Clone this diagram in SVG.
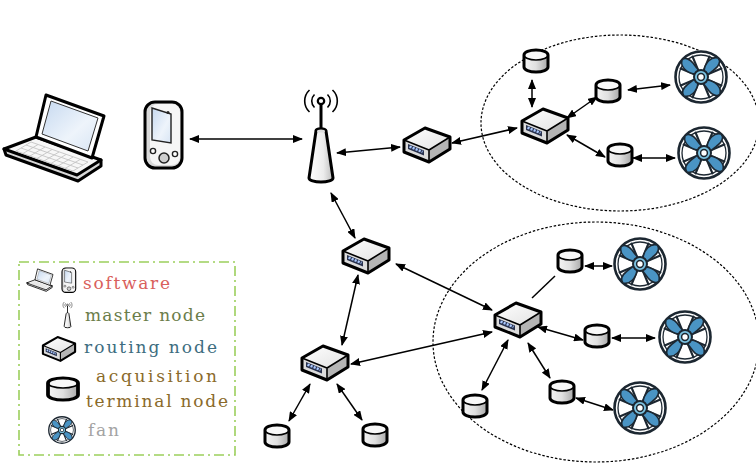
<svg xmlns="http://www.w3.org/2000/svg" xmlns:xlink="http://www.w3.org/1999/xlink" width="756" height="467" viewBox="0 0 756 467">
  <style>
    .link { stroke: #000; stroke-width: 1.5; fill: none; marker-start: url(#ah); marker-end: url(#ah); }
    .plain { stroke: #000; stroke-width: 1.5; fill: none; }
    .zone { fill: none; stroke: #000; stroke-width: 1.2; stroke-dasharray: 2.5 1.8; }
    .edge { stroke: #000; stroke-width: 3; stroke-linejoin: round; stroke-linecap: round; }
    .lbl { font-family: "DejaVu Serif", "Liberation Serif", serif; font-size: 17px; }
  </style>
  <defs>
    <marker id="ah" viewBox="0 0 10 8" refX="9" refY="4" markerWidth="10" markerHeight="8" markerUnits="userSpaceOnUse" orient="auto-start-reverse">
      <path d="M0,0 L10,4 L0,8 Z" fill="#000"/>
    </marker>
    <linearGradient id="gTop" x1="0" y1="0" x2="1" y2="1">
      <stop offset="0" stop-color="#ffffff"/>
      <stop offset="1" stop-color="#e2e2e2"/>
    </linearGradient>
    <linearGradient id="gCyl" x1="0" y1="0" x2="1" y2="0">
      <stop offset="0" stop-color="#f4f4f4"/>
      <stop offset="0.5" stop-color="#e0e0e0"/>
      <stop offset="1" stop-color="#a8a8a8"/>
    </linearGradient>
    <linearGradient id="gScreen" x1="0" y1="0" x2="1" y2="1">
      <stop offset="0" stop-color="#c6d9f0"/>
      <stop offset="0.6" stop-color="#eef4fb"/>
      <stop offset="1" stop-color="#d8e5f4"/>
    </linearGradient>
    <linearGradient id="gTower" x1="0" y1="0" x2="1" y2="0">
      <stop offset="0" stop-color="#ffffff"/>
      <stop offset="0.6" stop-color="#ececec"/>
      <stop offset="1" stop-color="#bdbdbd"/>
    </linearGradient>

    <!-- routing node: isometric box with port strip -->
    <g id="router">
      <path d="M-23,-5 L2,5 L2,17 L-23,7 Z" fill="#dcdcdc"/>
      <path d="M2,5 L23,-8 L23,4 L2,17 Z" fill="#b5b5b5"/>
      <path d="M-23,-5 L-2,-17 L23,-8 L2,5 Z" fill="url(#gTop)"/>
      <path d="M-19,-1 L-3,5.5 L-3,10.5 L-19,4 Z" fill="#28314d"/>
      <path d="M-17.5,1.6 L-4.5,6.9" stroke="#a9c8ff" stroke-width="2.4" stroke-dasharray="2.2 1.1"/>
      <path d="M-23,-5 L2,5 L23,-8 M2,5 L2,17" fill="none" stroke="#000" stroke-width="1.6" stroke-linejoin="round"/>
      <path d="M-23,-5 L-2,-17 L23,-8 L23,4 L2,17 L-23,7 Z" fill="none" class="edge"/>
    </g>

    <!-- acquisition terminal node: cylinder -->
    <g id="cyl">
      <path d="M-12,-6 L-12,6 A12,5 0 0 0 12,6 L12,-6 Z" fill="url(#gCyl)"/>
      <ellipse cx="0" cy="-6" rx="12" ry="5" fill="#f8f8f8" stroke="#000" stroke-width="1.6"/>
      <path d="M-12,-6 A12,5 0 0 1 12,-6 L12,6 A12,5 0 0 1 -12,6 Z" fill="none" class="edge" stroke-width="2.6"/>
    </g>

    <!-- fan -->
    <g id="fanBlade">
      <path d="M3,-6 C4,-14 10,-21 17,-19 C20,-16 18,-11 14,-8 C10,-5 7,-3 6,-1 Z" fill="#4a94c4" stroke="#1c2731" stroke-width="1.6" stroke-linejoin="round"/>
    </g>
    <g id="fan">
      <circle r="27" fill="#f2f2f2" opacity="0.6"/>
      <circle r="25.5" fill="#ffffff" stroke="#1c2731" stroke-width="2.6"/>
      <circle r="22" fill="none" stroke="#1c2731" stroke-width="1.3"/>
      <g stroke="#1c2731" stroke-width="2.2" stroke-linecap="round">
        <line x1="0" y1="-8" x2="0" y2="-22" transform="rotate(22.5)"/>
        <line x1="0" y1="-8" x2="0" y2="-22" transform="rotate(67.5)"/>
        <line x1="0" y1="-8" x2="0" y2="-22" transform="rotate(112.5)"/>
        <line x1="0" y1="-8" x2="0" y2="-22" transform="rotate(157.5)"/>
        <line x1="0" y1="-8" x2="0" y2="-22" transform="rotate(202.5)"/>
        <line x1="0" y1="-8" x2="0" y2="-22" transform="rotate(247.5)"/>
        <line x1="0" y1="-8" x2="0" y2="-22" transform="rotate(292.5)"/>
        <line x1="0" y1="-8" x2="0" y2="-22" transform="rotate(337.5)"/>
      </g>
      <use href="#fanBlade" transform="rotate(0)"/>
      <use href="#fanBlade" transform="rotate(90)"/>
      <use href="#fanBlade" transform="rotate(180)"/>
      <use href="#fanBlade" transform="rotate(270)"/>
      <circle r="7" fill="#7cc3e2" stroke="#1c2731" stroke-width="2"/>
      <circle r="3.4" fill="#ffffff" stroke="#1c2731" stroke-width="1.5"/>
    </g>

    <!-- laptop -->
    <g id="laptop">
      <path d="M4,149 L6,155 L78,181 L101,166 L101,160 Z" fill="#d8d8d8" class="edge"/>
      <path d="M36,137 L101,160 L77,175 L4,149 Z" fill="#f7f7f7" class="edge"/>
      <g stroke="#c4c4c4" stroke-width="0.9" fill="none">
        <path d="M31,142 L88,162 M26,145 L83,165 M21,148 L78,168 M16,151 L73,171"/>
        <path d="M31,142 L16,151 M38,144.5 L23,153.5 M45,147 L30,156 M52,149.5 L37,158.5 M59,152 L44,161 M66,154.5 L51,163.5 M73,157 L58,166 M80,159.5 L65,168.5 M88,162 L73,171"/>
      </g>
      <path d="M46,95 L104,116 L92,158 L36,137 Z" fill="#ffffff" class="edge"/>
      <path d="M51,101 L98,118 L88,151 L42,134 Z" fill="url(#gScreen)" stroke="#333" stroke-width="1"/>
    </g>

    <!-- handheld -->
    <g id="phone">
      <rect x="145" y="102" width="37" height="66" rx="10" fill="#d9d9d9" class="edge"/>
      <rect x="150" y="104" width="30" height="61" rx="8" fill="#f6f6f6"/>
      <path d="M152,108 L171,114 L171,143 L152,140 Z" fill="url(#gScreen)" stroke="#222" stroke-width="1.4"/>
      <circle cx="168" cy="112.5" r="1.5" fill="#222"/>
      <circle cx="153" cy="151" r="2.6" fill="#fff" stroke="#222" stroke-width="1.4"/>
      <circle cx="175" cy="154" r="2.6" fill="#fff" stroke="#222" stroke-width="1.4"/>
      <circle cx="164" cy="158" r="5" fill="#cfcfcf" stroke="#222" stroke-width="1.5"/>
    </g>

    <!-- master node antenna -->
    <g id="antenna">
      <path d="M314.5,94.5 A9,9 0 0 0 314.5,107.5 M309.5,90 A15,15 0 0 0 309.5,112 M327.5,94.5 A9,9 0 0 1 327.5,107.5 M332.5,90 A15,15 0 0 1 332.5,112" fill="none" stroke="#000" stroke-width="1.6"/>
      <line x1="321" y1="104" x2="321" y2="131" stroke="#000" stroke-width="3"/>
      <circle cx="321" cy="101" r="3.2" fill="#fff" stroke="#000" stroke-width="2.2"/>
      <path d="M316,131 A5,2.2 0 0 1 326,131 L333,178 A12,4 0 0 1 309,178 Z" fill="url(#gTower)" class="edge"/>
      <ellipse cx="321" cy="131" rx="4" ry="1.6" fill="#ddd"/>
    </g>
  </defs>

  <!-- zone outlines -->
  <g id="zones">
    <ellipse class="zone" cx="620" cy="123" rx="139" ry="88"/>
    <ellipse class="zone" cx="596" cy="342" rx="163" ry="120"/>
  </g>

  <!-- connectors -->
  <g id="connectors">
    <line class="link" x1="190" y1="139" x2="302" y2="139"/>
    <line class="link" x1="337" y1="153" x2="400" y2="147"/>
    <line class="link" x1="452" y1="143" x2="517" y2="128"/>
    <line class="link" x1="532" y1="80" x2="532" y2="107"/>
    <line class="link" x1="567" y1="118" x2="597" y2="97"/>
    <line class="link" x1="628" y1="90" x2="670" y2="85"/>
    <line class="link" x1="567" y1="135" x2="605" y2="157"/>
    <line class="link" x1="633" y1="158" x2="675" y2="158"/>
    <line class="link" x1="331" y1="193" x2="355" y2="238"/>
    <line class="link" x1="396" y1="264" x2="492" y2="310"/>
    <line class="link" x1="351" y1="364" x2="492" y2="332"/>
    <line class="plain" x1="532" y1="298" x2="555" y2="276"/>
    <line class="link" x1="585" y1="266" x2="612" y2="266"/>
    <line class="link" x1="538" y1="327" x2="583" y2="340"/>
    <line class="link" x1="612" y1="338" x2="655" y2="338"/>
    <line class="link" x1="528" y1="343" x2="550" y2="378"/>
    <line class="link" x1="576" y1="398" x2="613" y2="410"/>
    <line class="link" x1="508" y1="340" x2="482" y2="390"/>
    <line class="link" x1="358" y1="275" x2="342" y2="345"/>
    <line class="link" x1="310" y1="384" x2="289" y2="421"/>
    <line class="link" x1="337" y1="384" x2="362" y2="420"/>
  </g>

  <!-- software clients -->
  <g id="laptop-client"><use href="#laptop"/></g>
  <g id="handheld-client"><use href="#phone"/></g>

  <!-- master node -->
  <g id="master"><use href="#antenna"/></g>

  <!-- routing nodes -->
  <g id="router-1"><use href="#router" transform="translate(427,145)"/></g>
  <g id="router-2"><use href="#router" transform="translate(545,126)"/></g>
  <g id="router-3"><use href="#router" transform="translate(518,320)"/></g>
  <g id="router-4"><use href="#router" transform="translate(366,256)"/></g>
  <g id="router-5"><use href="#router" transform="translate(325,363)"/></g>

  <!-- acquisition terminal nodes -->
  <g id="terminal-1"><use href="#cyl" transform="translate(536,61)"/></g>
  <g id="terminal-2"><use href="#cyl" transform="translate(608,91)"/></g>
  <g id="terminal-3"><use href="#cyl" transform="translate(620,155)"/></g>
  <g id="terminal-4"><use href="#cyl" transform="translate(570,261)"/></g>
  <g id="terminal-5"><use href="#cyl" transform="translate(597,336)"/></g>
  <g id="terminal-6"><use href="#cyl" transform="translate(562,392)"/></g>
  <g id="terminal-7"><use href="#cyl" transform="translate(475,406)"/></g>
  <g id="terminal-8"><use href="#cyl" transform="translate(277,436)"/></g>
  <g id="terminal-9"><use href="#cyl" transform="translate(375,435)"/></g>

  <!-- fans -->
  <g id="fan-1"><use href="#fan" transform="translate(701,77)"/></g>
  <g id="fan-2"><use href="#fan" transform="translate(704,153)"/></g>
  <g id="fan-3"><use href="#fan" transform="translate(640,264)"/></g>
  <g id="fan-4"><use href="#fan" transform="translate(685,337)"/></g>
  <g id="fan-5"><use href="#fan" transform="translate(640,408)"/></g>

  <!-- legend -->
  <g id="legend">
    <rect x="19" y="262" width="216" height="193" fill="none" stroke="#9ccf5c" stroke-width="1.6" stroke-dasharray="10 4 2 4"/>
    <use href="#laptop" transform="translate(27,269) scale(0.26) translate(-4,-95)"/>
    <use href="#phone" transform="translate(62,268) scale(0.37) translate(-145,-102)"/>
    <text class="lbl" x="83" y="289" fill="#d9605c" textLength="87" lengthAdjust="spacing">software</text>
    <use href="#antenna" transform="translate(67.5,302) scale(0.28) translate(-321,-90)"/>
    <text class="lbl" x="85" y="321" fill="#6b7d4a" textLength="120" lengthAdjust="spacing">master node</text>
    <use href="#router" transform="translate(59,349) scale(0.7)"/>
    <text class="lbl" x="84" y="353" fill="#3d6d80" textLength="133" lengthAdjust="spacing">routing node</text>
    <use href="#cyl" transform="translate(63,389) scale(1.25,1.0)"/>
    <text class="lbl" x="96" y="382" fill="#8a6a2a" textLength="121" lengthAdjust="spacing">acquisition</text>
    <text class="lbl" x="86" y="407" fill="#8a6a2a" textLength="142" lengthAdjust="spacing">terminal node</text>
    <use href="#fan" transform="translate(62,430) scale(0.52)"/>
    <text class="lbl" x="88" y="436" fill="#a3a3a3" textLength="31" lengthAdjust="spacing">fan</text>
  </g>
</svg>
